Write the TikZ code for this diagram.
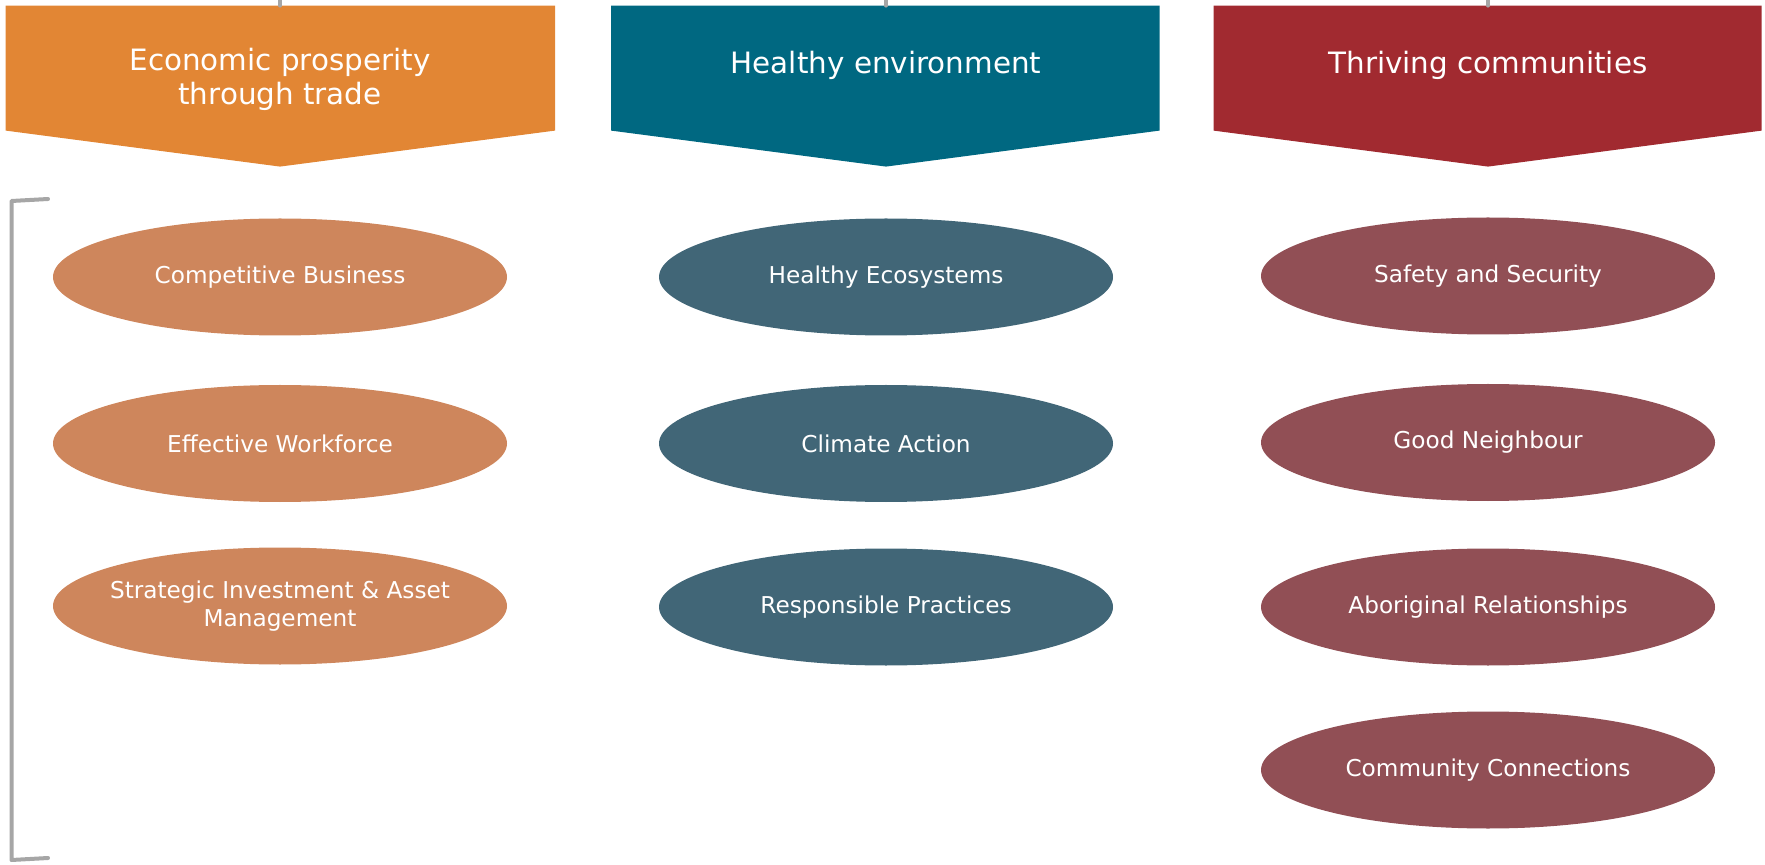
\documentclass[tikz,border=0pt]{standalone}
\usepackage{fontspec}
\setmainfont{DejaVu Sans}
\usetikzlibrary{shapes.geometric}
\definecolor{hdrorange}{HTML}{E28634}
\definecolor{hdrteal}{HTML}{006881}
\definecolor{hdrred}{HTML}{A12A30}
\definecolor{ellorange}{HTML}{CE865C}
\definecolor{ellteal}{HTML}{416677}
\definecolor{ellred}{HTML}{914F55}
\definecolor{stubgrey}{HTML}{A6A6A6}
\tikzset{
    hdrtext/.style={text=white, align=center, font=\fontsize{14.7}{16.9}\selectfont},
    goal/.style={ellipse, minimum width=227pt, minimum height=58.5pt, inner ysep=0pt, inner xsep=-12pt,
        text=white, align=center, font=\fontsize{11.6}{14}\selectfont},
    stub/.style={stubgrey, line width=2pt, line cap=round}
}
\begin{document}
\begin{tikzpicture}[x=0.5pt, y=-0.5pt]
    \useasboundingbox (0, 0) rectangle (1765, 865);
    % headers
    \fill[hdrorange] (5.6, 5.6) -- (555, 5.6) -- (555, 130.6) -- (280, 166.6) -- (5.6, 130.6) -- cycle;
    \fill[hdrteal] (611, 5.6) -- (1159.5, 5.6) -- (1159.5, 130.6) -- (886, 166.6) -- (611, 130.6) -- cycle;
    \fill[hdrred] (1213.5, 5.6) -- (1761.7, 5.6) -- (1761.7, 130.6) -- (1488, 166.6) -- (1213.5, 130.6) -- cycle;
    \node[hdrtext] (H1) at (280, 79) {Economic prosperity\\through trade};
    \node[hdrtext] (H2) at (886, 65) {Healthy environment};
    \node[hdrtext] (H3) at (1488, 65) {Thriving communities};
    \coordinate (T1) at (280, 0);
    \coordinate (T2) at (886, 0);
    \coordinate (T3) at (1488, 0);
    \coordinate (B1) at (280, 5.6);
    \coordinate (B2) at (886, 5.6);
    \coordinate (B3) at (1488, 5.6);
    \draw[stub] (T1) -- (B1);
    \draw[stub] (T2) -- (B2);
    \draw[stub] (T3) -- (B3);
    % goals
    \node[goal, fill=ellorange] (CB) at (280, 277) {Competitive Business};
    \node[goal, fill=ellorange] (EW) at (280, 443.5) {Effective Workforce};
    \node[goal, fill=ellorange] (SI) at (280, 606) {Strategic Investment \& Asset\\Management};
    \node[goal, fill=ellteal] (HE) at (886, 277) {Healthy Ecosystems};
    \node[goal, fill=ellteal] (CA) at (886, 443.5) {Climate Action};
    \node[goal, fill=ellteal] (RP) at (886, 607) {Responsible Practices};
    \node[goal, fill=ellred] (SS) at (1488, 276) {Safety and Security};
    \node[goal, fill=ellred] (GN) at (1488, 442.5) {Good Neighbour};
    \node[goal, fill=ellred] (AR) at (1488, 607) {Aboriginal Relationships};
    \node[goal, fill=ellred] (CC) at (1488, 770) {Community Connections};
    % bracket
    \coordinate (K1) at (48, 199);
    \coordinate (K2) at (11.5, 201);
    \coordinate (K3) at (11.5, 860);
    \coordinate (K4) at (48, 858);
    \draw[stub, line join=round] (K1) -- (K2) -- (K3) -- (K4);
\end{tikzpicture}
\end{document}
